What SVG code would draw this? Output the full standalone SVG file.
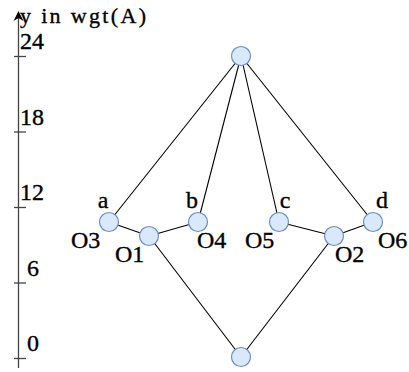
<svg xmlns="http://www.w3.org/2000/svg" width="409" height="372" viewBox="0 0 409 372">
<style>
text{font-family:"Liberation Serif","DejaVu Serif",serif;font-size:24px;fill:#000;stroke:#000;stroke-width:0.35}
.n{fill:#dae8fc;stroke:#6c8ebf;stroke-width:1.2}
.e{stroke:#000;stroke-width:1.1;fill:none}
.ax{stroke:#444;stroke-width:1.3;fill:none}
</style>
<g id="axis">
<line class="ax" x1="18.5" y1="368" x2="18.5" y2="14"/>
<path d="M13.5,21 L18.5,11 L23.5,21 L18.5,18 Z" fill="#000"/>
<line class="ax" x1="14" y1="56.5" x2="26" y2="56.5"/>
<line class="ax" x1="14" y1="132" x2="26" y2="132"/>
<line class="ax" x1="14" y1="207.5" x2="26" y2="207.5"/>
<line class="ax" x1="14" y1="283" x2="26" y2="283"/>
<line class="ax" x1="14" y1="358.5" x2="26" y2="358.5"/>
<text x="20" y="23" style="font-size:22px" textLength="126" lengthAdjust="spacing">y in wgt(A)</text>
<text x="20" y="49">24</text>
<text x="20" y="125">18</text>
<text x="20" y="200">12</text>
<text x="27" y="276">6</text>
<text x="27" y="351">0</text>
</g>
<g id="connectors">
<line class="e" x1="241" y1="56" x2="109" y2="222"/>
<line class="e" x1="241" y1="56" x2="198" y2="222"/>
<line class="e" x1="241" y1="56" x2="279" y2="222"/>
<line class="e" x1="241" y1="56" x2="373" y2="222"/>
<line class="e" x1="109" y1="222" x2="149" y2="236"/>
<line class="e" x1="149" y1="236" x2="198" y2="222"/>
<line class="e" x1="279" y1="222" x2="334" y2="236"/>
<line class="e" x1="334" y1="236" x2="373" y2="222"/>
<line class="e" x1="149" y1="236" x2="241" y2="357"/>
<line class="e" x1="334" y1="236" x2="241" y2="357"/>
</g>
<g id="top"><circle class="n" cx="241" cy="56" r="9.5"/></g>
<g id="bottom"><circle class="n" cx="241" cy="357" r="9.5"/></g>
<g id="a"><circle class="n" cx="109" cy="222" r="9.5"/><text x="103" y="208" text-anchor="middle">a</text><text x="71" y="248">O3</text></g>
<g id="O1"><circle class="n" cx="149" cy="236" r="9.5"/><text x="115" y="262">O1</text></g>
<g id="b"><circle class="n" cx="198" cy="222" r="9.5"/><text x="192" y="208" text-anchor="middle">b</text><text x="197" y="248">O4</text></g>
<g id="c"><circle class="n" cx="279" cy="222" r="9.5"/><text x="285" y="208" text-anchor="middle">c</text><text x="245" y="248">O5</text></g>
<g id="O2"><circle class="n" cx="334" cy="236" r="9.5"/><text x="335" y="262">O2</text></g>
<g id="d"><circle class="n" cx="373" cy="222" r="9.5"/><text x="382" y="208" text-anchor="middle">d</text><text x="378" y="248">O6</text></g>
</svg>
